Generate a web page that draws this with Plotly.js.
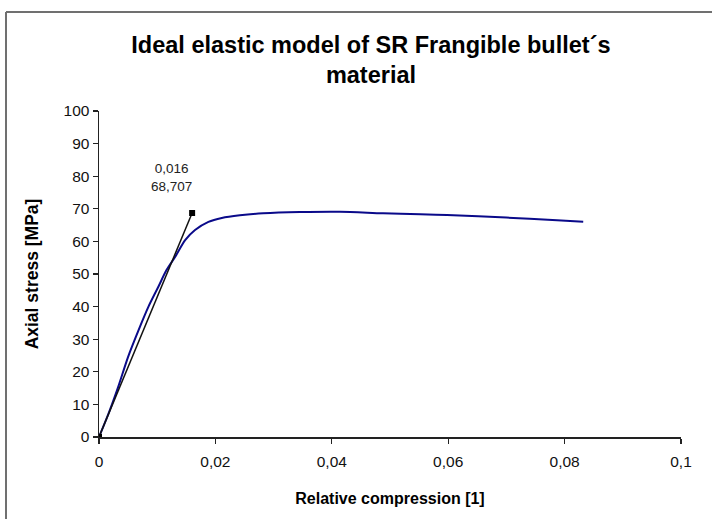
<!DOCTYPE html>
<html>
<head>
<meta charset="utf-8">
<script src="https://cdn.plot.ly/plotly-3.0.1.min.js"></script>
<style>
html, body { margin: 0; padding: 0; background: #ffffff; }
#chart { width: 712px; height: 519px; }
</style>
</head>
<body>
<div id="chart"></div>
<script>
// Measured curve: relative compression [1] vs axial stress [MPa]
const curveX = [0, 0.0017, 0.0033, 0.0050, 0.0068, 0.0085, 0.0102, 0.0116, 0.0131, 0.0148, 0.0165, 0.0188, 0.0211, 0.0242, 0.0282, 0.0345, 0.0414, 0.0488, 0.0552, 0.0598, 0.0700, 0.0787, 0.0832];
const curveY = [0, 7.5, 15.4, 24.6, 32.8, 40.0, 46.1, 51.2, 55.3, 60.4, 63.5, 66.0, 67.2, 68.0, 68.6, 69.0, 69.1, 68.6, 68.3, 68.1, 67.3, 66.5, 66.0];

// Ideal elastic model line
const modelX = [0, 0.016];
const modelY = [0, 68.707];
const modelLabel = "0,016<br>68,707";

const titleText = "Ideal elastic model of SR Frangible bullet´s<br>material";
const xTitle = "Relative compression [1]";
const yTitle = "Axial stress [MPa]";
const xTicks = [0, 0.02, 0.04, 0.06, 0.08, 0.1];
const xTickText = ["0", "0,02", "0,04", "0,06", "0,08", "0,1"];
const yTicks = [0, 10, 20, 30, 40, 50, 60, 70, 80, 90, 100];

const traces = [
  {
    x: curveX, y: curveY, type: "scatter", mode: "lines",
    line: { color: "#0a0a8a", width: 2, shape: "spline", smoothing: 0.8 },
    hoverinfo: "skip"
  },
  {
    x: modelX, y: modelY, type: "scatter", mode: "lines+markers",
    line: { color: "#111111", width: 1.5 },
    marker: { symbol: "square", size: 6, color: "#000000" },
    hoverinfo: "skip"
  }
];

const layout = {
  width: 712, height: 519,
  margin: { l: 99, r: 31, t: 111, b: 82 },
  paper_bgcolor: "#ffffff",
  plot_bgcolor: "#ffffff",
  showlegend: false,
  separators: ", ",
  font: { family: "Liberation Sans, Arial, sans-serif", color: "#111111", size: 15 },
  title: {
    text: "<b>" + titleText + "</b>",
    font: { family: "Liberation Sans, Arial, sans-serif", size: 23.5, color: "#000000" },
    xref: "container", x: 0.521, xanchor: "center",
    yref: "container", y: 0.898, yanchor: "middle"
  },
  xaxis: {
    range: [0, 0.1],
    tickvals: xTicks, ticktext: xTickText,
    showgrid: false, zeroline: false,
    showline: true, linecolor: "#222222", linewidth: 1.5,
    ticks: "outside", ticklen: 5, tickwidth: 1.2, tickcolor: "#222222",
    ticklabelstandoff: 5,
    tickfont: { size: 15.5, color: "#111111" },
    title: { text: "<b>" + xTitle + "</b>", font: { size: 16, color: "#000000" }, standoff: 23 }
  },
  yaxis: {
    range: [0, 100],
    tickvals: yTicks,
    showgrid: false, zeroline: false,
    showline: true, linecolor: "#222222", linewidth: 1.5,
    ticks: "outside", ticklen: 5, tickwidth: 1.2, tickcolor: "#222222",
    tickfont: { size: 15.5, color: "#111111" },
    title: { text: "<b>" + yTitle + "</b>", font: { size: 17.5, color: "#000000" }, standoff: 20 }
  },
  annotations: [
    {
      x: modelX[1], y: modelY[1], xref: "x", yref: "y",
      text: modelLabel, showarrow: false,
      xanchor: "center", yanchor: "bottom",
      xshift: -21, yshift: 17,
      font: { size: 13.5, color: "#222222" }
    }
  ],
  shapes: [
    {
      type: "line", xref: "paper", yref: "paper",
      x0: (6 - 99) / 582, x1: 1.2, y0: (437 - 12) / 326, y1: (437 - 12) / 326,
      line: { color: "#707070", width: 2 }
    },
    {
      type: "line", xref: "paper", yref: "paper",
      x0: (6 - 99) / 582, x1: (6 - 99) / 582, y0: (437 - 12) / 326, y1: -0.4,
      line: { color: "#707070", width: 2 }
    }
  ]
};

Plotly.newPlot("chart", traces, layout, { displayModeBar: false, staticPlot: true });
</script>
</body>
</html>
